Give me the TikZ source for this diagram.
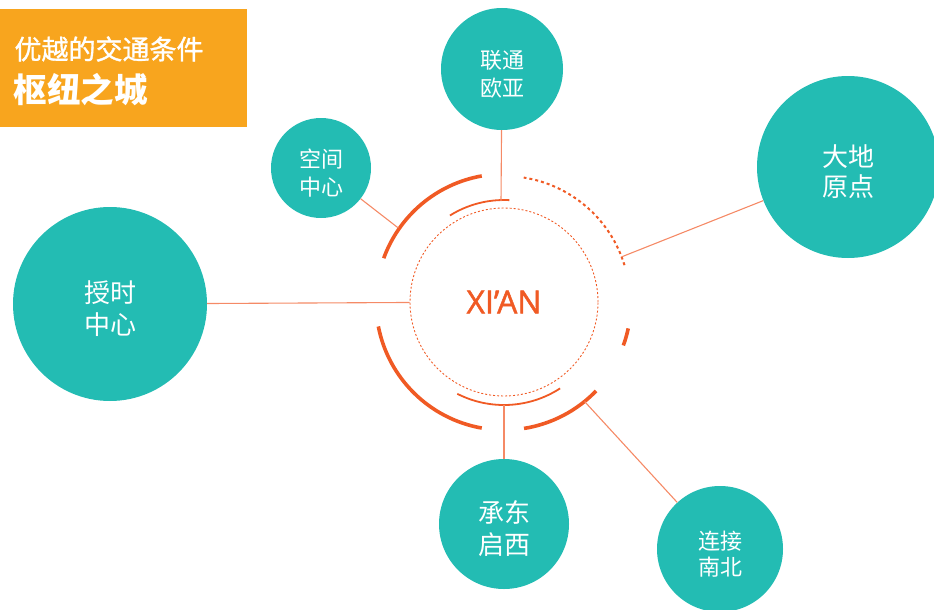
\documentclass[tikz,border=0pt]{standalone}
\usepackage{fontspec}
\newfontfamily\cjk{Noto Sans CJK SC}
\newfontfamily\cjkmid{Noto Sans CJK SC}[FakeBold=1.2]
\newfontfamily\latin{Open Sans}[FakeBold=1.5]
\usetikzlibrary{calc}
\definecolor{cityteal}{HTML}{23BCB3}
\definecolor{boxorange}{HTML}{F8A51E}
\definecolor{cityred}{HTML}{F05A24}
\definecolor{linkorange}{HTML}{F58A66}
\tikzset{
    bubble/.style={circle,fill=cityteal,inner sep=0pt},
    bubbletext/.style={text=white,align=center,yshift=-5pt,inner sep=0pt},
    hub/.style={circle,draw=cityred,dash pattern=on 2pt off 2pt,line width=0.9pt,
        minimum size=188pt,inner sep=0pt,text=cityred},
    link/.style={draw=linkorange,line width=1.1pt},
    ringthick/.style={draw=cityred,line width=3.6pt},
    ringthin/.style={draw=cityred,line width=1.8pt},
    ringdash/.style={draw=cityred,line width=2pt,dash pattern=on 3pt off 3pt}
}

\begin{document}
\begin{tikzpicture}[x=1pt,y=1pt]
            \useasboundingbox (0,0) rectangle (934,-610);
            % title
            \node[fill=boxorange,minimum width=247pt,minimum height=118pt,anchor=north west,inner sep=0pt] (titlebox) at (0,-9) {};
            \node[anchor=west,text=white,font=\cjkmid\fontsize{27}{30}\selectfont] (title) at (11,-49) {优越的交通条件};
            \node[anchor=west,text=white,font=\cjk\bfseries\fontsize{33.5}{36}\selectfont] (subtitle) at (10,-90) {枢纽之城};
            % hub
            \node[hub,font=\latin\fontsize{32}{38}\selectfont] (xian) at (504,-302) {XI’AN};
            \draw[ringthick] (xian.center) ++(100:128) arc[start angle=100,end angle=160,radius=128];
            \draw[ringthick] (xian.center) ++(191:128) arc[start angle=191,end angle=260,radius=128];
            \draw[ringthick] (xian.center) ++(-81:128) arc[start angle=-81,end angle=-44,radius=128];
            \draw[ringthick] (xian.center) ++(-20:127) arc[start angle=-20,end angle=-12,radius=127];
            \draw[ringthin] (xian.center) ++(87:102) arc[start angle=87,end angle=122,radius=102];
            \draw[ringthin] (xian.center) ++(-117:103) arc[start angle=-117,end angle=-57,radius=103];
            \draw[ringdash] (xian.center) ++(17:126) arc[start angle=17,end angle=81,radius=126];
            \coordinate (kjend) at ($(xian.center)+(145:129)$);
            \coordinate (ltend) at ($(xian.center)+(91.7:101)$);
            \coordinate (ddend) at ($(xian.center)+(21:126)$);
            \coordinate (cdend) at ($(xian.center)+(-90:103)$);
            \coordinate (ljend) at ($(xian.center)+(-51:128)$);
            % bubbles
            \node[bubble,minimum size=194pt,label={[bubbletext,font=\cjk\fontsize{26}{32}\selectfont]center:授时\\中心}] (shoushi) at (110,-304) {};
            \node[bubble,minimum size=100pt,label={[bubbletext,font=\cjk\fontsize{22}{28}\selectfont]center:空间\\中心}] (kongjian) at (321,-168) {};
            \node[bubble,minimum size=122pt,label={[bubbletext,font=\cjk\fontsize{22}{28}\selectfont]center:联通\\欧亚}] (liantong) at (502,-69) {};
            \node[bubble,minimum size=182pt,label={[bubbletext,font=\cjk\fontsize{26}{30}\selectfont]center:大地\\原点}] (dadi) at (848,-167) {};
            \node[bubble,minimum size=130pt,label={[bubbletext,font=\cjk\fontsize{26}{32}\selectfont]center:承东\\启西}] (chengdong) at (504,-524) {};
            \node[bubble,minimum size=126pt,label={[bubbletext,font=\cjk\fontsize{22}{26}\selectfont]center:连接\\南北}] (lianjie) at (720,-549) {};
            \path
                (shoushi)   edge[link] (xian)
                (kongjian)  edge[link] (kjend)
                (liantong)  edge[link] (ltend)
                (dadi)      edge[link] (ddend)
                (chengdong) edge[link] (cdend)
                (lianjie)   edge[link] (ljend)
            ;
        \end{tikzpicture}
\end{document}
